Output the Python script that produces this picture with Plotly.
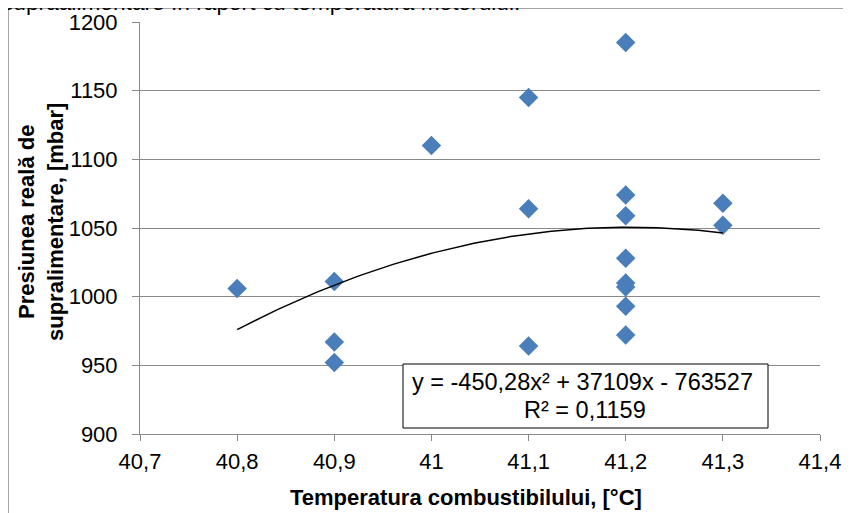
import numpy as np
import plotly.graph_objects as go

# ---- data ----
temp_c = [40.8, 40.9, 40.9, 40.9, 41.0, 41.1, 41.1, 41.1,
          41.2, 41.2, 41.2, 41.2, 41.2, 41.2, 41.2, 41.2, 41.3, 41.3]
pressure_mbar = [1006, 1011, 967, 952, 1110, 1145, 1064, 964,
                 1185, 1074, 1059, 1028, 1010, 1007, 993, 972, 1068, 1052]

x_tick_vals = [40.7, 40.8, 40.9, 41.0, 41.1, 41.2, 41.3, 41.4]
x_tick_text = ["40,7", "40,8", "40,9", "41", "41,1", "41,2", "41,3", "41,4"]
y_tick_vals = [900, 950, 1000, 1050, 1100, 1150, 1200]
y_tick_text = ["900", "950", "1000", "1050", "1100", "1150", "1200"]

equation_line = "y = -450,28x² + 37109x - 763527"
r2_line = "R² = 0,1159"
title_text = "supraalimentare în raport cu temperatura motorului."
x_title = "Temperatura combustibilului, [°C]"
y_title_lines = ["Presiunea reală de", "supralimentare, [mbar]"]

# ---- polynomial trendline (order 2) fitted to the points ----
coef = np.polyfit(temp_c, pressure_mbar, 2)
trend_x = np.linspace(min(temp_c), max(temp_c), 120)
trend_y = np.polyval(coef, trend_x)

# the page body has an 8px margin, so the figure sits at (8, 8) in the window
OFF = 8
W, H = 851 - OFF, 513 - OFF
L, R, T, B = 140 - OFF, 851 - 820, 22 - OFF, 513 - 434
PW, PH = W - L - R, H - T - B


def px(xp):  # page x pixel -> paper
    return (xp - OFF - L) / PW


def py(yp):  # page y pixel -> paper
    return (H - B - (yp - OFF)) / PH


FONT = "Liberation Sans, Arial, sans-serif"
GRID = "#898989"

fig = go.Figure()
fig.add_trace(go.Scatter(
    x=temp_c, y=pressure_mbar, mode="markers",
    marker=dict(symbol="diamond", size=15, color="#4A7EBB", line=dict(width=0)),
    showlegend=False, hoverinfo="x+y"))
fig.add_trace(go.Scatter(
    x=trend_x, y=trend_y, mode="lines",
    line=dict(color="black", width=1.5), showlegend=False, hoverinfo="skip"))

fig.update_layout(
    width=W, height=H,
    margin=dict(l=L, r=R, t=T, b=B, autoexpand=False),
    paper_bgcolor="white", plot_bgcolor="white",
    font=dict(family=FONT, size=22, color="black"),
    xaxis=dict(range=[40.7, 41.4], tickvals=x_tick_vals, ticktext=x_tick_text,
               showgrid=False, zeroline=False, showline=True, linecolor=GRID,
               linewidth=1, ticks="outside", ticklen=6, tickcolor=GRID,
               ticklabelstandoff=2, automargin=False,
               tickfont=dict(size=22, family=FONT)),
    yaxis=dict(range=[900, 1200], tickvals=y_tick_vals, ticktext=y_tick_text,
               showgrid=True, gridcolor=GRID, gridwidth=1, zeroline=False,
               showline=True, linecolor=GRID, linewidth=1,
               ticks="outside", ticklen=7, tickcolor=GRID,
               ticklabelstandoff=10, automargin=False,
               tickfont=dict(size=22, family=FONT)),
    shapes=[
        # outer chart frame (left and top edges visible)
        dict(type="rect", xref="paper", yref="paper",
             x0=px(8.5), x1=px(880), y0=py(540), y1=py(8.5),
             line=dict(color="#A6A6A6", width=1), fillcolor="rgba(0,0,0,0)",
             layer="below"),
        # equation box
        dict(type="rect", xref="paper", yref="paper",
             x0=px(403), x1=px(768), y0=py(428), y1=py(364),
             line=dict(color="black", width=1), fillcolor="white", layer="above"),
    ],
    annotations=[
        dict(text=equation_line, xref="paper", yref="paper",
             x=px(582), y=py(382), xanchor="center", yanchor="middle",
             showarrow=False, font=dict(size=23.5, family=FONT, color="black")),
        dict(text=r2_line, xref="paper", yref="paper",
             x=px(585), y=py(410), xanchor="center", yanchor="middle",
             showarrow=False, font=dict(size=23.5, family=FONT, color="black")),
        dict(text="<b>" + x_title + "</b>", xref="paper", yref="paper",
             x=px(466), y=py(497), xanchor="center", yanchor="middle",
             showarrow=False, font=dict(size=22, family=FONT, color="black")),
        dict(text="<br>".join("<b>" + s + "</b>" for s in y_title_lines),
             xref="paper", yref="paper",
             x=px(41), y=py(222), xanchor="center", yanchor="middle",
             textangle=-90, showarrow=False, align="center",
             font=dict(size=22, family=FONT, color="black")),
        dict(text=title_text, xref="paper", yref="paper",
             x=px(0), y=py(2), xanchor="left", yanchor="middle",
             showarrow=False, font=dict(size=22.7, family=FONT, color="black")),
    ],
)

fig.write_html("out.html")
